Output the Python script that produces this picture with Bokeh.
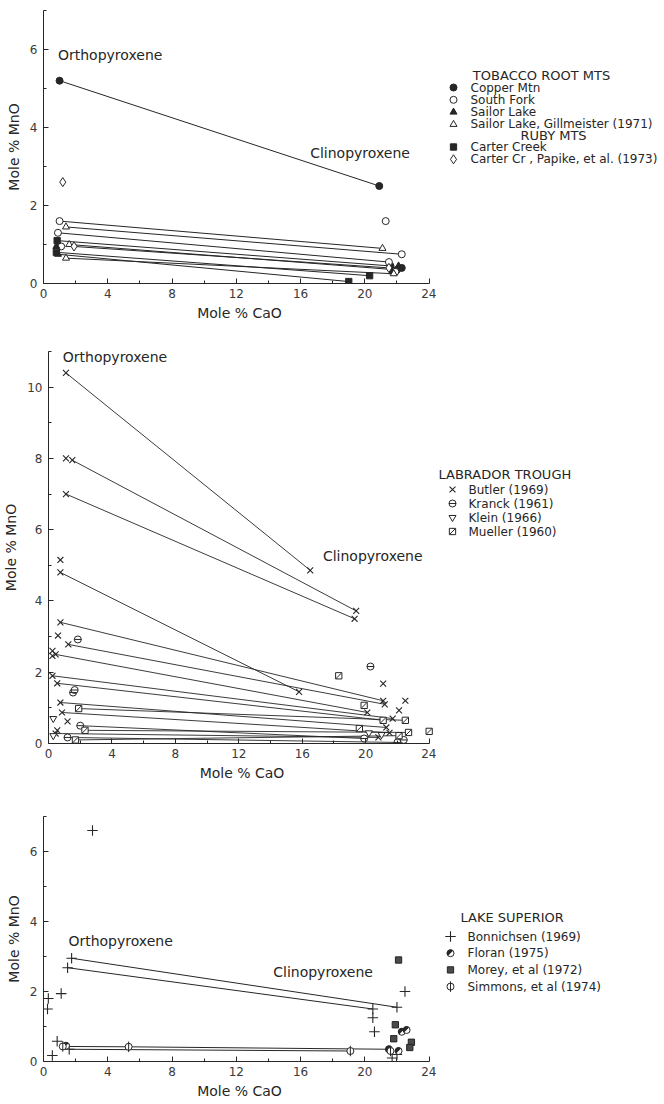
import math
from bokeh.plotting import figure
from bokeh.layouts import column, row
from bokeh.models import Range1d, FixedTicker
from bokeh.core.properties import value
from bokeh.embed import file_html
from bokeh.resources import INLINE

FONT = "DejaVu Sans"
INK = "#262626"

# ---------------- axis ticks ----------------
x_major = [0, 4, 8, 12, 16, 20, 24]
x_minor = [2, 6, 10, 14, 18, 22]
y1_major = [0, 2, 4, 6]
y1_minor = [1, 3, 5, 7]
y2_major = [0, 2, 4, 6, 8, 10]
y2_minor = [1, 3, 5, 7, 9, 11]
y3_major = [0, 2, 4, 6]
y3_minor = [1, 3, 5, 7]

# ---------------- panel 1: Tobacco Root / Ruby Mts ----------------
copper_x = [1.0, 20.9, 21.6, 22.0, 22.3]
copper_y = [5.2, 2.5, 0.45, 0.35, 0.4]
southfork_x = [1.0, 0.9, 1.1, 21.3, 22.3, 21.5, 21.9]
southfork_y = [1.6, 1.3, 0.95, 1.6, 0.75, 0.55, 0.3]
sailor_x = [0.8, 0.9, 21.7, 22.1]
sailor_y = [0.95, 0.75, 0.3, 0.45]
gillm_x = [1.4, 1.6, 1.4, 21.1, 21.8]
gillm_y = [1.45, 1.0, 0.65, 0.9, 0.25]
carter_x = [0.85, 0.8, 19.0, 20.3]
carter_y = [1.1, 0.8, 0.05, 0.2]
papike_x = [1.2, 1.9, 21.5]
papike_y = [2.6, 0.95, 0.4]
tie1_opx_x = [1.0, 1.0, 1.4, 0.9, 0.85, 1.6, 1.9, 0.8, 0.9, 1.4]
tie1_opx_y = [5.2, 1.6, 1.45, 1.3, 1.1, 1.0, 0.95, 0.8, 0.75, 0.65]
tie1_cpx_x = [20.9, 21.1, 22.3, 21.5, 21.6, 22.0, 21.5, 20.3, 19.0, 21.8]
tie1_cpx_y = [2.5, 0.9, 0.75, 0.55, 0.45, 0.35, 0.4, 0.2, 0.05, 0.25]

# ---------------- panel 2: Labrador Trough ----------------
butler_x = [1.1, 1.1, 1.5, 1.1, 0.75, 0.75, 0.75, 0.6, 1.25, 0.25, 0.45, 0.25,
            0.25, 0.55, 0.75, 0.85, 1.2, 0.55, 0.45,
            16.5, 19.4, 19.3, 15.8, 21.1, 21.1, 21.2, 22.5, 20.1, 22.1, 21.7,
            21.3, 21.5, 20.8]
butler_y = [10.4, 8.0, 7.95, 7.0, 5.15, 4.8, 3.4, 3.03, 2.78, 2.6, 2.5, 2.46,
            1.9, 1.69, 1.15, 0.87, 0.62, 0.37, 0.28,
            4.86, 3.72, 3.5, 1.45, 1.68, 1.2, 1.1, 1.2, 0.87, 0.93, 0.7,
            0.45, 0.3, 0.17]
kranck_x = [1.85, 1.55, 1.65, 2.0, 1.2, 20.3, 19.9, 22.0, 22.4]
kranck_y = [2.92, 1.43, 1.5, 0.5, 0.17, 2.16, 0.14, 0.03, 0.1]
klein_x = [0.3, 0.3, 20.2, 21.0]
klein_y = [0.7, 0.22, 0.3, 0.25]
mueller_x = [1.9, 2.3, 1.7, 18.3, 19.9, 21.1, 22.5, 19.6, 22.7, 24.0, 22.1]
mueller_y = [0.98, 0.37, 0.1, 1.9, 1.07, 0.65, 0.65, 0.42, 0.31, 0.34, 0.22]
tie2_opx_x = [1.1, 1.5, 1.1, 0.75, 0.75, 1.25, 0.45, 0.25, 0.55, 0.75, 1.9, 0.85, 2.0, 2.3, 0.45, 1.2, 1.7]
tie2_opx_y = [10.4, 7.95, 7.0, 4.8, 3.4, 2.78, 2.5, 1.9, 1.69, 1.15, 0.98, 0.87, 0.5, 0.37, 0.28, 0.17, 0.1]
tie2_cpx_x = [16.5, 19.4, 19.3, 15.8, 21.1, 21.2, 20.1, 21.7, 21.1, 21.3, 22.5, 21.5, 19.9, 22.7, 20.8, 22.0, 22.1]
tie2_cpx_y = [4.86, 3.72, 3.5, 1.45, 1.2, 1.1, 0.87, 0.7, 0.65, 0.45, 0.65, 0.3, 0.14, 0.31, 0.17, 0.03, 0.22]

# ---------------- panel 3: Lake Superior ----------------
bonn_x = [3.05, 1.75, 1.5, 1.1, 0.3, 0.25, 0.85, 0.55, 1.6,
          20.5, 20.5, 20.6, 22.5, 22.0, 22.0, 21.7]
bonn_y = [6.6, 2.95, 2.68, 1.94, 1.8, 1.5, 0.58, 0.17, 0.35,
          1.5, 1.25, 0.85, 2.0, 1.55, 0.2, 0.1]
floran_x = [1.4, 22.3, 22.6, 21.5, 22.1]
floran_y = [0.45, 0.85, 0.9, 0.35, 0.3]
morey_x = [22.1, 21.9, 21.8, 22.9, 22.8]
morey_y = [2.9, 1.05, 0.65, 0.55, 0.4]
simmons_x = [1.2, 5.3, 19.1, 21.6]
simmons_y = [0.43, 0.42, 0.3, 0.3]
tie3_opx_x = [1.75, 1.5, 1.2, 5.3, 1.6]
tie3_opx_y = [2.95, 2.68, 0.43, 0.42, 0.35]
tie3_cpx_x = [22.0, 20.5, 5.3, 21.5, 19.1]
tie3_cpx_y = [1.55, 1.5, 0.42, 0.35, 0.3]

# ---------------- legends ----------------
leg1_title = "TOBACCO ROOT MTS"
leg1_labels = ["Copper Mtn", "South Fork", "Sailor Lake", "Sailor Lake, Gillmeister  (1971)"]
leg1_kinds = ["filled_circle", "open_circle", "filled_triangle", "open_triangle"]
leg1b_title = "RUBY MTS"
leg1b_labels = ["Carter Creek", "Carter Cr , Papike, et al.  (1973)"]
leg1b_kinds = ["filled_square", "open_diamond"]
leg2_title = "LABRADOR TROUGH"
leg2_labels = ["Butler  (1969)", "Kranck  (1961)", "Klein  (1966)", "Mueller  (1960)"]
leg2_kinds = ["x", "theta", "open_inv_triangle", "slashed_square"]
leg3_title = "LAKE SUPERIOR"
leg3_labels = ["Bonnichsen  (1969)", "Floran  (1975)", "Morey, et al  (1972)", "Simmons, et al  (1974)"]
leg3_kinds = ["plus", "half_circle", "half_square", "phi"]


def draw(p, kind, xs, ys, s=7.0):
    if kind == "filled_circle":
        p.scatter(xs, ys, marker="circle", size=s, fill_color=INK, line_color=INK)
    elif kind == "open_circle":
        p.scatter(xs, ys, marker="circle", size=s, fill_color="white", line_color=INK)
    elif kind == "filled_triangle":
        p.scatter(xs, ys, marker="triangle", size=s, fill_color=INK, line_color=INK)
    elif kind == "open_triangle":
        p.scatter(xs, ys, marker="triangle", size=s, fill_color="white", line_color=INK)
    elif kind == "filled_square":
        p.scatter(xs, ys, marker="square", size=s * 0.9, fill_color=INK, line_color=INK)
    elif kind == "open_diamond":
        p.scatter(xs, ys, marker="diamond", size=s * 1.3, fill_color="white", line_color=INK)
    elif kind == "x":
        p.scatter(xs, ys, marker="x", size=s * 1.2, line_color=INK, line_width=1.1)
    elif kind == "plus":
        p.scatter(xs, ys, marker="cross", size=s * 1.5, line_color=INK, line_width=1.1)
    elif kind == "theta":
        p.scatter(xs, ys, marker="circle", size=s, fill_color="white", line_color=INK)
        p.scatter(xs, ys, marker="dash", size=s, line_color=INK)
    elif kind == "open_inv_triangle":
        p.scatter(xs, ys, marker="inverted_triangle", size=s, fill_color="white", line_color=INK)
    elif kind == "slashed_square":
        p.scatter(xs, ys, marker="square", size=s * 0.9, fill_color="white", line_color=INK)
        p.scatter(xs, ys, marker="dash", size=s * 1.1, angle=math.pi / 4, line_color=INK)
    elif kind == "half_circle":
        p.scatter(xs, ys, marker="circle", size=s, fill_color="white", line_color=INK)
        p.wedge(xs, ys, radius=s / 2, radius_units="screen", start_angle=math.pi / 4,
                end_angle=5 * math.pi / 4, fill_color=INK, line_color=None)
    elif kind == "half_square":
        p.scatter(xs, ys, marker="square", size=s * 0.9, fill_color="#4a4a4a", line_color=INK)
    elif kind == "phi":
        p.scatter(xs, ys, marker="circle", size=s, fill_color="white", line_color=INK)
        p.scatter(xs, ys, marker="dash", size=s * 1.5, angle=math.pi / 2, line_color=INK)


def make_panel(height, ymax, top, bottom, ymaj, ymin):
    p = figure(width=436, height=height, x_range=Range1d(0, 24.4), y_range=Range1d(0, ymax),
               min_border_left=43, min_border_right=1, min_border_top=top, min_border_bottom=bottom,
               output_backend="svg", toolbar_location=None, background_fill_color="white",
               border_fill_color="white")
    p.outline_line_color = None
    p.grid.visible = False
    p.xaxis.bounds = (0, 24)
    p.xaxis.ticker = FixedTicker(ticks=x_major, minor_ticks=x_minor)
    p.yaxis.ticker = FixedTicker(ticks=ymaj, minor_ticks=ymin)
    p.xaxis.axis_label = "Mole % CaO"
    p.yaxis.axis_label = "Mole % MnO"
    for ax in (p.xaxis, p.yaxis):
        ax.axis_line_color = INK
        ax.major_tick_line_color = INK
        ax.minor_tick_line_color = INK
        ax.major_tick_in = 5
        ax.major_tick_out = 0
        ax.minor_tick_in = 3
        ax.minor_tick_out = 0
        ax.major_label_text_font = FONT
        ax.major_label_text_font_size = "12px"
        ax.major_label_text_color = "#3a3a3a"
        ax.axis_label_text_font = FONT
        ax.axis_label_text_font_size = "14px"
        ax.axis_label_text_font_style = "normal"
        ax.axis_label_text_color = INK
    p.xaxis.major_label_standoff = 5
    p.xaxis.axis_label_standoff = 4
    p.yaxis.major_label_standoff = 6
    p.yaxis.axis_label_standoff = 5
    return p


def label(p, x, y, t):
    p.text(x=[x], y=[y], text=[t], text_font=value(FONT), text_font_size="14px",
           text_color=INK, text_baseline="middle", text_align="left")


def legend_fig(height, frame_top, frame_bottom):
    # the row aligns this figure's frame with the panel's frame; y is in page pixels
    q = figure(width=228, height=height, x_range=Range1d(0, 228),
               y_range=Range1d(frame_bottom, frame_top),
               x_axis_type=None, y_axis_type=None, min_border=0, output_backend="svg",
               toolbar_location=None, background_fill_color="white", border_fill_color="white")
    q.outline_line_color = None
    q.grid.visible = False
    return q


def legend_text(q, xs, ys, texts, align="left", size="12px"):
    q.text(x=xs, y=ys, text=texts, text_font=value(FONT), text_font_size=size,
           text_color=INK, text_baseline="middle", text_align=align)


# ---------- panel 1 ----------
H1, H2, H3 = 333, 470, 301
p1 = make_panel(H1, 7, 10, 50, y1_major, y1_minor)
p1.segment(tie1_opx_x, tie1_opx_y, tie1_cpx_x, tie1_cpx_y, line_color=INK, line_width=1)
draw(p1, "filled_circle", copper_x, copper_y)
draw(p1, "open_circle", southfork_x, southfork_y)
draw(p1, "filled_triangle", sailor_x, sailor_y)
draw(p1, "open_triangle", gillm_x, gillm_y)
draw(p1, "filled_square", carter_x, carter_y)
draw(p1, "open_diamond", papike_x, papike_y)
label(p1, 0.9, 5.85, "Orthopyroxene")
label(p1, 16.6, 3.35, "Clinopyroxene")

l1 = legend_fig(H1, 10, 283)
legend_text(l1, [105], [75], [leg1_title], align="center", size="13px")
ys1 = [87 + 12.3 * i for i in range(len(leg1_labels))]
for k, yy in zip(leg1_kinds, ys1):
    draw(l1, k, [17], [yy])
legend_text(l1, [34] * len(ys1), ys1, leg1_labels)
legend_text(l1, [117], [134.5], [leg1b_title], align="center", size="13px")
ys1b = [146.5 + 12.3 * i for i in range(len(leg1b_labels))]
for k, yy in zip(leg1b_kinds, ys1b):
    draw(l1, k, [17], [yy])
legend_text(l1, [34] * len(ys1b), ys1b, leg1b_labels)

# ---------- panel 2 ----------
p2 = make_panel(H2, 11, 18, 60, y2_major, y2_minor)
p2.segment(tie2_opx_x, tie2_opx_y, tie2_cpx_x, tie2_cpx_y, line_color=INK, line_width=0.9)
draw(p2, "x", butler_x, butler_y)
draw(p2, "theta", kranck_x, kranck_y)
draw(p2, "open_inv_triangle", klein_x, klein_y)
draw(p2, "slashed_square", mueller_x, mueller_y)
label(p2, 0.9, 10.85, "Orthopyroxene")
label(p2, 17.3, 5.25, "Clinopyroxene")

l2 = legend_fig(H2, 351, 743)
legend_text(l2, [2], [474], [leg2_title], size="13px")
ys2 = [489 + 14 * i for i in range(len(leg2_labels))]
for k, yy in zip(leg2_kinds, ys2):
    draw(l2, k, [16], [yy])
legend_text(l2, [32] * len(ys2), ys2, leg2_labels)

# ---------- panel 3 ----------
p3 = make_panel(H3, 7, 13, 43, y3_major, y3_minor)
p3.segment(tie3_opx_x, tie3_opx_y, tie3_cpx_x, tie3_cpx_y, line_color=INK, line_width=1)
draw(p3, "plus", bonn_x, bonn_y)
draw(p3, "half_circle", floran_x, floran_y)
draw(p3, "half_square", morey_x, morey_y)
draw(p3, "phi", simmons_x, simmons_y)
label(p3, 1.55, 3.45, "Orthopyroxene")
label(p3, 14.3, 2.55, "Clinopyroxene")

l3 = legend_fig(H3, 816, 1061)
legend_text(l3, [24], [917], [leg3_title], size="13px")
ys3 = [936 + 16.7 * i for i in range(len(leg3_labels))]
for k, yy in zip(leg3_kinds, ys3):
    draw(l3, k, [14], [yy])
legend_text(l3, [31] * len(ys3), ys3, leg3_labels)

layout = column(row(p1, l1, spacing=0), row(p2, l2, spacing=0), row(p3, l3, spacing=0), spacing=0)
open("out.html", "w").write(file_html(layout, INLINE))
